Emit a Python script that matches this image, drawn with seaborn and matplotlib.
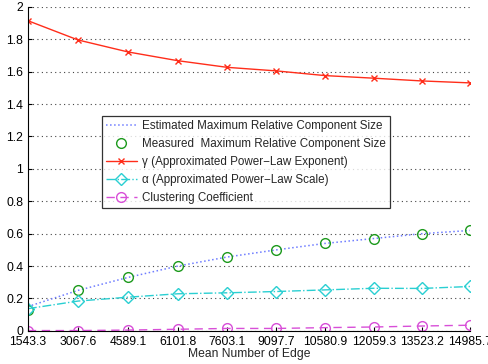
import numpy as np
import pandas as pd
import matplotlib
matplotlib.use('Agg')
import matplotlib.pyplot as plt
import seaborn as sns

# data
edges = [1543.3, 3067.6, 4589.1, 6101.8, 7603.1, 9097.7, 10580.9, 12059.3, 13523.2, 14985.7]
est_size = [0.15, 0.25, 0.33, 0.40, 0.456, 0.50, 0.54, 0.57, 0.60, 0.62]
meas_size = [0.127, 0.25, 0.33, 0.40, 0.456, 0.50, 0.54, 0.57, 0.60, 0.625]
gamma = [1.915, 1.796, 1.722, 1.668, 1.627, 1.605, 1.576, 1.56, 1.543, 1.531]
alpha = [0.137, 0.184, 0.208, 0.229, 0.235, 0.243, 0.253, 0.263, 0.262, 0.274]
clustering = [0.002, 0.002, 0.005, 0.01, 0.015, 0.015, 0.02, 0.024, 0.03, 0.035]

sns.set_style("ticks")
plt.rcParams['font.family'] = ['Liberation Sans', 'DejaVu Sans']

df = pd.DataFrame({'edges': edges, 'est': est_size, 'meas': meas_size,
                   'gamma': gamma, 'alpha': alpha, 'clust': clustering})

fig = plt.figure(figsize=(4.89, 3.64), dpi=100)
ax = fig.add_axes([0.057, 0.091, 0.904, 0.89])

# series: column, label, color, linestyle, marker, marker size
series = [
    ('est', 'Estimated Maximum Relative Component Size', '#6f7dff', ':', 'None', 0),
    ('meas', 'Measured  Maximum Relative Component Size', '#1c9a1c', 'None', 'o', 7),
    ('gamma', u'\u03b3 (Approximated Power\u2212Law Exponent)', '#ff2d1a', '-', 'x', 5),
    ('alpha', u'\u03b1 (Approximated Power\u2212Law Scale)', '#2acfd2', '-.', 'D', 6),
    ('clust', 'Clustering Coefficient', '#d84fd8', (0, (6, 4)), 'o', 7),
]

for col, lab, c, ls, mk, ms in series:
    sns.lineplot(data=df, x='edges', y=col, ax=ax, color=c, label=lab)
    line = ax.lines[-1]
    line.set_linestyle(ls)
    line.set_linewidth(1.1 if ls == ':' else 1.0)
    line.set_marker(mk)
    line.set_markersize(ms)
    line.set_markerfacecolor('none')
    line.set_markeredgecolor(c)
    line.set_markeredgewidth(1.0)

ax.set_xlim(1543.3, 14985.7)
ax.set_ylim(0, 2)
ax.set_xticks(edges)
ax.set_xticklabels([f'{e:.1f}' for e in edges])
ax.set_yticks(np.arange(0, 2.01, 0.2))
ax.set_yticklabels(['0', '0.2', '0.4', '0.6', '0.8', '1', '1.2', '1.4', '1.6', '1.8', '2'])
ax.tick_params(direction='in', length=3, labelsize=8.7, colors='black', pad=3.5)
ax.tick_params(axis='x', pad=4)
ax.yaxis.grid(True, linestyle=(0, (1, 3)), color='#444444', lw=0.8)
ax.set_axisbelow(True)
sns.despine(ax=ax)
for s in ['left', 'bottom']:
    ax.spines[s].set_color('black')
    ax.spines[s].set_linewidth(0.8)
ax.set_xlabel('Mean Number of Edge', fontsize=8.7, labelpad=0)
ax.set_ylabel('')

# rebuild legend from the styled lines
leg = ax.legend(handles=ax.lines[:5], labels=[s[1] for s in series],
                loc='upper left', bbox_to_anchor=(0.168, 0.662), fontsize=8.4, frameon=True,
                fancybox=False, edgecolor='black', handlelength=2.6, borderpad=0.35,
                labelspacing=0.5, handletextpad=0.5, borderaxespad=0)
leg.get_frame().set_linewidth(0.9)

fig.savefig('out.png', dpi=100)
